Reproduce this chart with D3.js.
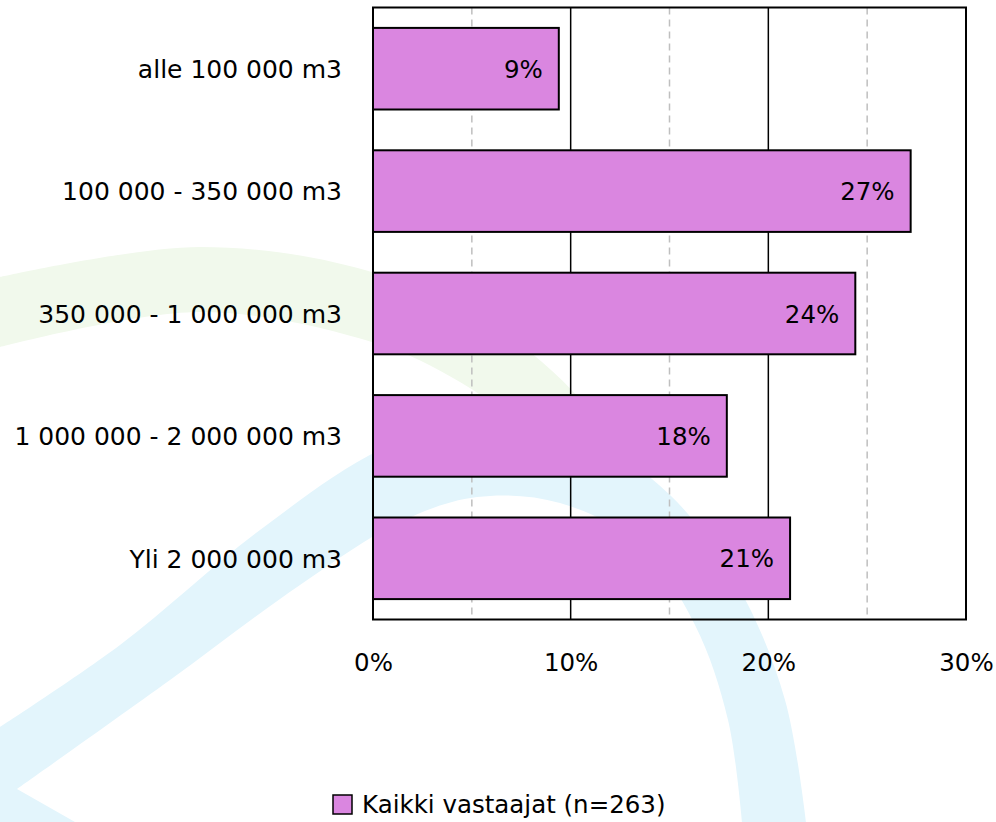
<!DOCTYPE html>
<html>
<head>
<meta charset="utf-8">
<script src="https://cdn.jsdelivr.net/npm/d3@7"></script>
<style>
  html, body { margin: 0; padding: 0; background: #fff; }
  svg { display: block; }
</style>
</head>
<body>
<div id="app"></div>
<script>
const categories = [
  'alle 100 000 m3',
  '100 000 - 350 000 m3',
  '350 000 - 1 000 000 m3',
  '1 000 000 - 2 000 000 m3',
  'Yli 2 000 000 m3',
]
const values = [0.094, 0.272, 0.244, 0.179, 0.211]
const seriesName = 'Kaikki vastaajat (n=263)'
const xTicks = [0, 0.1, 0.2, 0.3]
const majorGrid = [0.1, 0.2]
const minorGrid = [0.05, 0.15, 0.25]

const W = 996
const H = 822
const margin = { top: 7.5, right: 30, bottom: 202.5, left: 373 }
const width = W - margin.left - margin.right
const height = H - margin.top - margin.bottom

const barFill = '#da86e0'
const font = '"DejaVu Sans", sans-serif'

const svg = d3.select('#app')
  .append('svg')
  .attr('width', W)
  .attr('height', H)

// Decorative watermark behind the chart
const smooth = d3.line().curve(d3.curveCatmullRom.alpha(0.5))
const greenTop = [[0, 277], [200, 247], [375, 273], [508, 336], [590, 410], [645, 490]]
const greenBottom = [[600, 495], [540, 440], [460, 382], [375, 343], [200, 312], [0, 347]]
const blueOuter = [[0, 727], [120, 645], [260, 530], [380, 450], [480, 420], [580, 435], [670, 495], [740, 590], [785, 700], [806, 822]]
const blueInner = [[742, 822], [728, 720], [695, 625], [640, 545], [560, 503], [477, 497], [400, 522], [300, 585], [170, 680], [17, 789]]

svg.append('path')
  .attr('d', smooth(greenTop) + 'L' + smooth(greenBottom).slice(1) + 'Z')
  .attr('fill', '#f1f9ec')

svg.append('path')
  .attr('d', smooth(blueOuter) + 'L' + smooth(blueInner).slice(1) + 'L75,822L0,822Z')
  .attr('fill', '#e3f5fc')

const g = svg.append('g')
  .attr('transform', `translate(${margin.left},${margin.top})`)

const x = d3.scaleLinear()
  .domain([0, 0.3])
  .range([0, width])

const y = d3.scaleBand()
  .domain(categories)
  .range([0, height])
  .paddingInner(1 / 3)
  .paddingOuter(1 / 6)

// Gridlines
g.selectAll('.minor')
  .data(minorGrid)
  .join('line')
  .attr('x1', d => x(d))
  .attr('x2', d => x(d))
  .attr('y1', 0)
  .attr('y2', height)
  .attr('stroke', '#bfbfbf')
  .attr('stroke-width', 1.5)
  .attr('stroke-dasharray', '7,5')

g.selectAll('.major')
  .data(majorGrid)
  .join('line')
  .attr('x1', d => x(d))
  .attr('x2', d => x(d))
  .attr('y1', 0)
  .attr('y2', height)
  .attr('stroke', '#000')
  .attr('stroke-width', 1.5)

// Bars
g.selectAll('.bar')
  .data(values)
  .join('rect')
  .attr('class', 'bar')
  .attr('x', 0)
  .attr('y', (_, i) => y(categories[i]))
  .attr('width', d => x(d))
  .attr('height', y.bandwidth())
  .attr('fill', barFill)
  .attr('stroke', '#000')
  .attr('stroke-width', 2)

// Value labels
g.selectAll('.label')
  .data(values)
  .join('text')
  .attr('x', d => x(d) - 16)
  .attr('y', (_, i) => y(categories[i]) + y.bandwidth() / 2)
  .attr('dy', '0.37em')
  .attr('text-anchor', 'end')
  .style('font-family', font)
  .style('font-size', '24.5px')
  .attr('fill', '#000')
  .text(d => Math.round(d * 100) + '%')

// Plot frame
g.append('rect')
  .attr('width', width)
  .attr('height', height)
  .attr('fill', 'none')
  .attr('stroke', '#000')
  .attr('stroke-width', 2)

// Y axis
const yAxis = g.append('g')
  .call(d3.axisLeft(y).tickSize(0).tickPadding(31))
yAxis.select('.domain').remove()
yAxis.selectAll('text')
  .attr('dy', '0.37em')
  .style('font-family', font)
  .style('font-size', '25px')
  .attr('fill', '#000')

// X axis
const xAxis = g.append('g')
  .attr('transform', `translate(0,${height})`)
  .call(d3.axisBottom(x).tickValues(xTicks).tickFormat(d3.format('.0%')).tickSize(0).tickPadding(34))
xAxis.select('.domain').remove()
xAxis.selectAll('text')
  .style('font-family', font)
  .style('font-size', '24.5px')
  .attr('fill', '#000')

// Legend
const legend = svg.append('g')
  .attr('transform', 'translate(333,795)')
legend.append('rect')
  .attr('width', 19)
  .attr('height', 19)
  .attr('fill', barFill)
  .attr('stroke', '#000')
  .attr('stroke-width', 1.5)
legend.append('text')
  .attr('x', 29)
  .attr('y', 18)
  .style('font-family', font)
  .style('font-size', '24.5px')
  .attr('fill', '#000')
  .text(seriesName)
</script>
</body>
</html>
